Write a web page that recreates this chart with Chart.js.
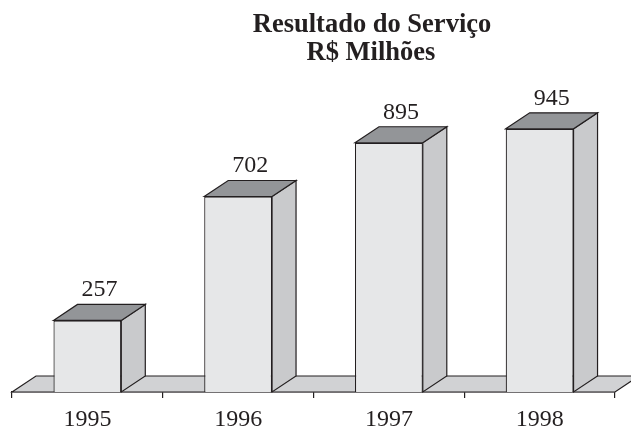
<!DOCTYPE html>
<html lang="pt">
<head>
<meta charset="UTF-8">
<title>Resultado do Serviço</title>
<script src="https://cdn.jsdelivr.net/npm/chart.js"></script>
<style>
    body { margin: 0; background: #fff; }
    canvas { display: block; }
</style>
</head>
<body>
<canvas id="chart" width="631" height="427"></canvas>
<script>
const titleLines = ['Resultado do Serviço', 'R$ Milhões'];
const years = ['1995', '1996', '1997', '1998'];
const values = [257, 702, 895, 945];

// 3D look
const DX = 24, DY = 16;
const INK = '#231f20';
const FRONT = '#e6e7e8', SIDE = '#c9cacc', TOP = '#939598', FLOOR = '#d1d2d4';
const SERIF = '"Liberation Serif", "Times New Roman", serif';

function poly(ctx, pts, fill) {
    ctx.beginPath();
    ctx.moveTo(pts[0][0], pts[0][1]);
    for (let i = 1; i < pts.length; i++) ctx.lineTo(pts[i][0], pts[i][1]);
    ctx.closePath();
    ctx.fillStyle = fill;
    ctx.fill();
    ctx.stroke();
}

const box3d = {
    id: 'box3d',
    beforeDatasetsDraw(chart) {
        const { ctx, chartArea: a } = chart;
        ctx.save();
        ctx.strokeStyle = INK;
        ctx.lineWidth = 1.2;
        poly(ctx, [[a.left, a.bottom], [a.left + DX, a.bottom - DY],
                   [a.right + DX, a.bottom - DY], [a.right, a.bottom]], FLOOR);
        ctx.restore();
    },
    afterDatasetsDraw(chart) {
        const { ctx } = chart;
        const meta = chart.getDatasetMeta(0);
        ctx.save();
        ctx.strokeStyle = INK;
        ctx.lineWidth = 1.2;
        meta.data.forEach((bar, i) => {
            const p = bar.getProps(['x', 'y', 'base', 'width'], true);
            const x1 = p.x - p.width / 2, x2 = p.x + p.width / 2;
            poly(ctx, [[x2, p.y], [x2 + DX, p.y - DY], [x2 + DX, p.base - DY], [x2, p.base]], SIDE);
            poly(ctx, [[x1, p.y], [x1 + DX, p.y - DY], [x2 + DX, p.y - DY], [x2, p.y]], TOP);
            ctx.fillStyle = INK;
            ctx.font = '24px ' + SERIF;
            ctx.textAlign = 'center';
            ctx.textBaseline = 'alphabetic';
            ctx.fillText(String(values[i]), p.x + DX / 2, p.y - DY - 8);
        });
        ctx.restore();
    },
    afterDraw(chart) {
        const { ctx } = chart;
        ctx.save();
        ctx.fillStyle = INK;
        ctx.font = 'bold 26.5px ' + SERIF;
        ctx.textAlign = 'center';
        ctx.textBaseline = 'alphabetic';
        ctx.fillText(titleLines[0], 372, 32);
        ctx.fillText(titleLines[1], 371, 60);
        ctx.restore();
    }
};

new Chart(document.getElementById('chart'), {
    type: 'bar',
    data: {
        labels: years,
        datasets: [{
            data: values,
            backgroundColor: FRONT,
            borderColor: INK,
            borderWidth: 1.2,
            categoryPercentage: 1,
            barPercentage: 0.45
        }]
    },
    options: {
        responsive: false,
        animation: false,
        layout: { padding: { left: 12, right: 16, top: 113.5, bottom: 0 } },
        plugins: {
            legend: { display: false },
            title: { display: false },
            tooltip: { enabled: false }
        },
        scales: {
            x: {
                afterFit: s => { s.height = 35; },
                grid: { drawOnChartArea: false, tickLength: 6, color: INK, lineWidth: 1.2 },
                border: { display: true, color: INK, width: 1.2 },
                ticks: { color: INK, padding: 7, font: { family: SERIF, size: 24 } }
            },
            y: { display: false, min: 0, max: 1000 }
        }
    },
    plugins: [box3d]
});
</script>
</body>
</html>
